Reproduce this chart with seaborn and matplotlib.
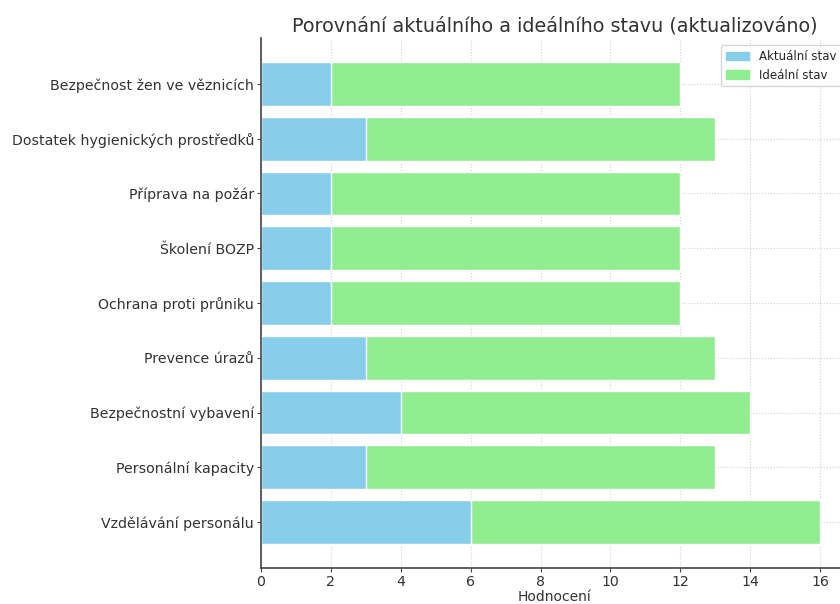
import matplotlib
matplotlib.use("Agg")
import matplotlib.pyplot as plt
import seaborn as sns
import pandas as pd
from matplotlib.patches import Patch

categories = [
    "Bezpečnost žen ve věznicích",
    "Dostatek hygienických prostředků",
    "Příprava na požár",
    "Školení BOZP",
    "Ochrana proti průniku",
    "Prevence úrazů",
    "Bezpečnostní vybavení",
    "Personální kapacity",
    "Vzdělávání personálu",
]
current = [2, 3, 2, 2, 2, 3, 4, 3, 6]
ideal = [10, 10, 10, 10, 10, 10, 10, 10, 10]

df = pd.DataFrame({"kategorie": categories, "aktualni": current, "idealni": ideal})
df["celkem"] = df["aktualni"] + df["idealni"]

sns.set_style("white")
plt.rcParams["font.family"] = ["DejaVu Sans"]

fig = plt.figure(figsize=(8.4, 6.04), dpi=100)
ax = fig.add_axes([261 / 840, 36 / 604, 587 / 840, 530 / 604])

# stacked bars: ideal segment sits on top of the current value
sns.barplot(data=df, y="kategorie", x="celkem", color="#90EE90", orient="h",
            width=0.8, saturation=1, ax=ax)
sns.barplot(data=df, y="kategorie", x="aktualni", color="#87CEEB", orient="h",
            width=0.8, saturation=1, ax=ax)

ax.set_xlim(0, 16.8)
ax.set_ylim(8.84, -0.84)
ax.set_xticks(range(0, 17, 2))
ax.grid(True, linestyle=":", color="#d0d0d0", linewidth=0.8)
ax.set_axisbelow(True)
for s in ["top", "right"]:
    ax.spines[s].set_visible(False)
for s in ["left", "bottom"]:
    ax.spines[s].set_color("#444444")
    ax.spines[s].set_linewidth(1.2)
ax.tick_params(axis="both", labelsize=10.2, colors="#333333", length=3,
               pad=2, left=True, bottom=True, color="#444444")
ax.set_ylabel("")
ax.set_xlabel("Hodnocení", fontsize=10, color="#333333", labelpad=0.5)
ax.set_title("Porovnání aktuálního a ideálního stavu (aktualizováno)",
             fontsize=13.8, color="#333333", pad=5)

handles = [Patch(color="#87CEEB", label="Aktuální stav"),
           Patch(color="#90EE90", label="Ideální stav")]
ax.legend(handles=handles, loc="upper right", fontsize=8.5, frameon=True,
          borderaxespad=0.6)

fig.savefig("out.png", dpi=100)
